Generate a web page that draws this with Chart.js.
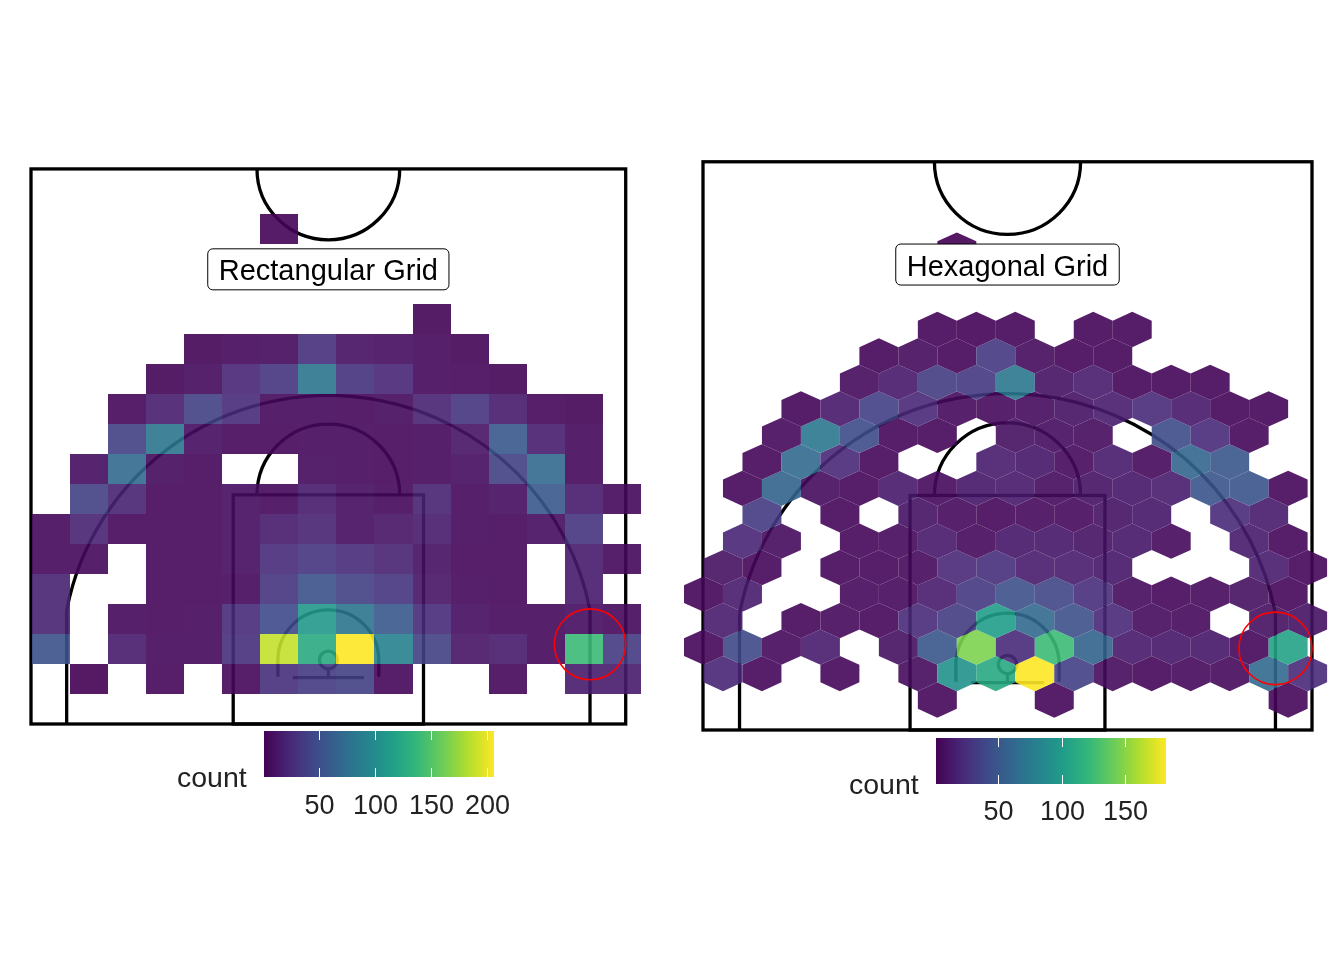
<!DOCTYPE html>
<html>
<head>
<meta charset="utf-8">
<script src="https://cdn.jsdelivr.net/npm/chart.js@4.4.0/dist/chart.umd.min.js"></script>
<style>
  body { margin: 0; background: #fff; }
  #wrap { position: relative; width: 1344px; height: 960px; }
  .panel { position: absolute; top: 0; width: 672px; height: 960px; }
</style>
</head>
<body>
<div id="wrap">
  <div class="panel" style="left:0"><canvas id="rectChart" width="672" height="960"></canvas></div>
  <div class="panel" style="left:672px"><canvas id="hexChart" width="672" height="960"></canvas></div>
</div>
<script>
// Shot counts, rectangular bins (3.2 ft x 2.54 ft), bottom row first, 16 columns
var rectX0 = -24.92, rectY0 = 2.54, rectW = 3.2, rectH = 2.54;
var rectCounts = [
  [0,1,0,4,0,4,28,36,40,4,0,0,4,0,16,16],
  [52,0,16,5,5,28,188,126,206,92,40,12,16,5,140,36],
  [20,0,5,4,5,25,46,110,82,57,25,8,5,5,8,5],
  [20,0,0,4,4,5,32,52,40,32,12,5,4,0,16,0],
  [5,5,0,4,4,8,25,32,25,20,10,4,4,0,16,5],
  [5,20,4,4,4,8,16,20,8,12,16,5,4,8,32,0],
  [0,40,20,4,4,8,5,16,8,5,20,5,8,57,16,5],
  [0,8,70,6,4,0,0,6,5,4,5,8,40,70,5,0],
  [0,0,40,82,8,4,4,5,5,4,5,12,57,18,5,0],
  [0,0,4,18,40,25,5,5,4,6,20,32,16,4,3,0],
  [0,0,0,3,6,22,32,82,30,22,5,4,3,0,0,0],
  [0,0,0,0,3,5,6,28,10,8,5,3,0,0,0,0],
  [0,0,0,0,0,0,0,0,0,0,3,0,0,0,0,0],
  [0,0,0,0,0,0,0,0,0,0,0,0,0,0,0,0],
  [0,0,0,0,0,0,0,0,0,0,0,0,0,0,0,0],
  [0,0,0,0,0,0,2,0,0,0,0,0,0,0,0,0]
];

// Shot counts, hexagonal bins (3.2 ft wide, rows 2.189 ft apart), bottom row first
// odd rows are shifted half a bin to the right
var hexX0 = -24.96, hexY0 = 2.48, hexW = 3.2, hexH = 2.189;
var hexCounts = [
  [0,0,0,0,0,0,4,0,0,4,0,0,0,0,0,4],
  [20,4,0,4,0,6,92,110,182,35,6,4,5,5,62,22],
  [4,40,5,15,0,8,50,146,22,124,58,13,12,12,4,105],
  [15,0,4,5,4,22,33,100,62,45,21,6,5,0,8,10],
  [3,15,0,0,5,5,15,30,45,38,24,6,4,5,8,4],
  [9,4,0,4,4,5,21,25,15,15,12,0,0,0,15,4],
  [0,20,6,0,4,5,13,5,12,12,10,12,5,0,14,4],
  [0,32,0,4,0,10,5,4,5,5,10,12,0,22,14,0],
  [0,4,58,6,4,13,5,12,13,6,10,12,15,48,48,4],
  [0,4,62,21,4,0,0,15,12,5,14,5,60,50,0,0],
  [0,0,5,73,42,4,4,0,8,7,6,0,42,22,4,0],
  [0,0,3,13,35,21,5,5,6,10,15,22,13,3,3,0],
  [0,0,0,0,6,13,33,30,73,10,15,3,3,3,0,0],
  [0,0,0,0,3,6,3,30,6,3,3,0,0,0,0,0],
  [0,0,0,0,0,0,3,2,3,0,3,3,0,0,0,0],
  [0,0,0,0,0,0,0,0,0,0,0,0,0,0,0,0],
  [0,0,0,0,0,0,0,0,0,0,0,0,0,0,0,0],
  [0,0,0,0,0,0,1,0,0,0,0,0,0,0,0,0]
];

// Legend ticks and panel labels
var rectTicks = [50, 100, 150, 200];
var hexTicks = [50, 100, 150];
var rectTitle = 'Rectangular Grid';
var hexTitle = 'Hexagonal Grid';
var legendTitle = 'count';

// Highlighted spot (corner three), feet
var spotX = 22, spotY = 6.75, spotR = 3;

var viridisStops = ['#440154','#482878','#3e4a89','#31688e','#26828e','#1f9e89','#35b779','#6dcd59','#b4de2c','#fde725'];

function hexToRgb(h) {
  return [parseInt(h.substr(1,2),16), parseInt(h.substr(3,2),16), parseInt(h.substr(5,2),16)];
}

function viridis(t) {
  t = Math.max(0, Math.min(1, t));
  var p = t * 9;
  var i = Math.min(8, Math.floor(p));
  var f = p - i;
  var a = hexToRgb(viridisStops[i]), b = hexToRgb(viridisStops[i+1]);
  return [0,1,2].map(function(k){ return Math.round(a[k] + (b[k]-a[k])*f); });
}

function rangeOf(rows) {
  var lo = Infinity, hi = -Infinity;
  rows.forEach(function(r){ r.forEach(function(v){ if (v > 0) { lo = Math.min(lo, v); hi = Math.max(hi, v); } }); });
  return [lo, hi];
}

function drawCourt(ctx, sx, sy) {
  var kx = Math.abs(sx(1) - sx(0)), ky = Math.abs(sy(1) - sy(0));
  var hy = 5.42, ft = 19.4, bb = 3.92;
  ctx.save();
  ctx.strokeStyle = '#000';
  ctx.lineWidth = 3.3;
  // outer lines
  ctx.strokeRect(sx(-25), sy(47), sx(25)-sx(-25), sy(0)-sy(47));
  // center circle
  ctx.beginPath(); ctx.ellipse(sx(0), sy(47), 6*kx, 6*ky, 0, 0, Math.PI); ctx.stroke();
  // key
  ctx.strokeRect(sx(-8), sy(ft), sx(8)-sx(-8), sy(0)-sy(ft));
  // free throw circle
  ctx.beginPath(); ctx.ellipse(sx(0), sy(ft), 6*kx, 6*ky, 0, Math.PI, 2*Math.PI); ctx.stroke();
  // three point line
  var R = 22.4;
  var yc = hy + Math.sqrt(R*R - 22*22);
  var a = Math.atan2(yc - hy, 22);
  ctx.beginPath();
  ctx.moveTo(sx(-22), sy(0)); ctx.lineTo(sx(-22), sy(yc));
  ctx.moveTo(sx(22), sy(0)); ctx.lineTo(sx(22), sy(yc));
  ctx.stroke();
  ctx.beginPath(); ctx.ellipse(sx(0), sy(hy), R*kx, R*ky, 0, Math.PI + a, 2*Math.PI - a); ctx.stroke();
  // restricted area
  ctx.beginPath();
  ctx.moveTo(sx(-4.24), sy(4.0));
  ctx.lineTo(sx(-4.24), sy(hy));
  ctx.ellipse(sx(0), sy(hy), 4.24*kx, 4.24*ky, 0, Math.PI, 2*Math.PI);
  ctx.lineTo(sx(4.24), sy(4.0));
  ctx.stroke();
  // backboard, rim
  ctx.beginPath(); ctx.moveTo(sx(-3), sy(bb)); ctx.lineTo(sx(3), sy(bb)); ctx.stroke();
  ctx.beginPath(); ctx.moveTo(sx(0), sy(bb)); ctx.lineTo(sx(0), sy(hy - 0.75)); ctx.stroke();
  ctx.beginPath(); ctx.ellipse(sx(0), sy(hy), 0.75*kx, 0.75*ky, 0, 0, 2*Math.PI); ctx.stroke();
  ctx.restore();
}

function drawLabel(ctx, sx, sy, text) {
  ctx.save();
  ctx.font = '29px "Liberation Sans", Arial, sans-serif';
  var w = ctx.measureText(text).width + 22, h = 41;
  var cx = sx(0), cy = sy(38.5);
  ctx.beginPath();
  ctx.roundRect(cx - w/2, cy - h/2, w, h, 5);
  ctx.fillStyle = '#fff'; ctx.fill();
  ctx.strokeStyle = '#000'; ctx.lineWidth = 1; ctx.stroke();
  ctx.fillStyle = '#000';
  ctx.textAlign = 'center'; ctx.textBaseline = 'alphabetic';
  ctx.fillText(text, cx, cy + 11);
  ctx.restore();
}

function drawSpot(ctx, sx, sy) {
  var kx = Math.abs(sx(1) - sx(0)), ky = Math.abs(sy(1) - sy(0));
  ctx.save();
  ctx.strokeStyle = '#ff0000'; ctx.lineWidth = 1.6;
  ctx.beginPath(); ctx.ellipse(sx(spotX), sy(spotY), spotR*kx, spotR*ky, 0, 0, 2*Math.PI); ctx.stroke();
  ctx.restore();
}

function drawColorbar(ctx, lo, hi, ticks, barTop, labelBase) {
  var left = 264, width = 230, height = 46;
  ctx.save();
  var g = ctx.createLinearGradient(left, 0, left + width, 0);
  for (var i = 0; i <= 40; i++) {
    var c = viridis(i/40);
    g.addColorStop(i/40, 'rgb(' + c.join(',') + ')');
  }
  ctx.fillStyle = g;
  ctx.fillRect(left, barTop, width, height);
  ctx.strokeStyle = '#fff'; ctx.lineWidth = 1;
  ctx.font = '27px "Liberation Sans", Arial, sans-serif';
  ctx.fillStyle = '#222'; ctx.textAlign = 'center'; ctx.textBaseline = 'alphabetic';
  ticks.forEach(function(t){
    var x = Math.round(left + (t - lo)/(hi - lo)*width) + 0.5;
    ctx.beginPath();
    ctx.moveTo(x, barTop); ctx.lineTo(x, barTop + 9);
    ctx.moveTo(x, barTop + height - 9); ctx.lineTo(x, barTop + height);
    ctx.stroke();
    ctx.fillText(String(t), x, labelBase);
  });
  ctx.font = '28.5px "Liberation Sans", Arial, sans-serif';
  ctx.textAlign = 'left';
  ctx.fillText(legendTitle, 177, barTop + 56);
  ctx.restore();
}

function makeCourtChart(id, m) {
  var xmin = -25 - m.x0 / m.kx, xmax = xmin + 672 / m.kx;
  var ymax = m.y0 / m.ky, ymin = ymax - 960 / m.ky;
  var plugin = {
    id: 'court_' + id,
    beforeDatasetsDraw: function(chart) {
      var ctx = chart.ctx;
      var sx = function(v){ return chart.scales.x.getPixelForValue(v); };
      var sy = function(v){ return chart.scales.y.getPixelForValue(v); };
      drawCourt(ctx, sx, sy);
      m.drawCells(ctx, sx, sy);
      drawLabel(ctx, sx, sy, m.title);
      drawSpot(ctx, sx, sy);
      drawColorbar(ctx, m.lo, m.hi, m.ticks, m.barTop, m.labelBase);
    }
  };
  return new Chart(document.getElementById(id), {
    type: 'scatter',
    data: { datasets: [{ data: [] }] },
    options: {
      responsive: false,
      animation: false,
      events: [],
      layout: { padding: 0 },
      plugins: { legend: { display: false }, tooltip: { enabled: false } },
      scales: {
        x: { type: 'linear', min: xmin, max: xmax, display: false },
        y: { type: 'linear', min: ymin, max: ymax, display: false }
      }
    },
    plugins: [plugin]
  });
}

// Rectangular grid
var rectRange = rangeOf(rectCounts);
makeCourtChart('rectChart', {
  x0: 31, kx: 11.894, y0: 724, ky: 11.81,
  title: rectTitle, ticks: rectTicks, lo: rectRange[0], hi: rectRange[1],
  barTop: 731, labelBase: 814,
  drawCells: function(ctx, sx, sy) {
    rectCounts.forEach(function(row, k){
      row.forEach(function(v, i){
        if (!v) return;
        var c = viridis((v - rectRange[0])/(rectRange[1] - rectRange[0]));
        var x1 = Math.round(sx(rectX0 + i*rectW)), x2 = Math.round(sx(rectX0 + (i+1)*rectW));
        var y1 = Math.round(sy(rectY0 + (k+1)*rectH)), y2 = Math.round(sy(rectY0 + k*rectH));
        ctx.fillStyle = 'rgba(' + c.join(',') + ',0.9)';
        ctx.fillRect(x1, y1, x2 - x1, y2 - y1);
      });
    });
  }
});

// Hexagonal grid
var hexRange = rangeOf(hexCounts);
makeCourtChart('hexChart', {
  x0: 31, kx: 12.18, y0: 730, ky: 12.09,
  title: hexTitle, ticks: hexTicks, lo: hexRange[0], hi: hexRange[1],
  barTop: 738, labelBase: 820,
  drawCells: function(ctx, sx, sy) {
    var r = hexH * 2 / 3, w = hexW / 2;
    hexCounts.forEach(function(row, m){
      row.forEach(function(v, n){
        if (!v) return;
        var cx = hexX0 + n*hexW + (m % 2 ? hexW/2 : 0);
        var cy = hexY0 + m*hexH;
        var c = viridis((v - hexRange[0])/(hexRange[1] - hexRange[0]));
        ctx.beginPath();
        ctx.moveTo(sx(cx), sy(cy + r));
        ctx.lineTo(sx(cx + w), sy(cy + r/2));
        ctx.lineTo(sx(cx + w), sy(cy - r/2));
        ctx.lineTo(sx(cx), sy(cy - r));
        ctx.lineTo(sx(cx - w), sy(cy - r/2));
        ctx.lineTo(sx(cx - w), sy(cy + r/2));
        ctx.closePath();
        ctx.fillStyle = 'rgba(' + c.join(',') + ',0.9)';
        ctx.fill();
      });
    });
  }
});
</script>
</body>
</html>
